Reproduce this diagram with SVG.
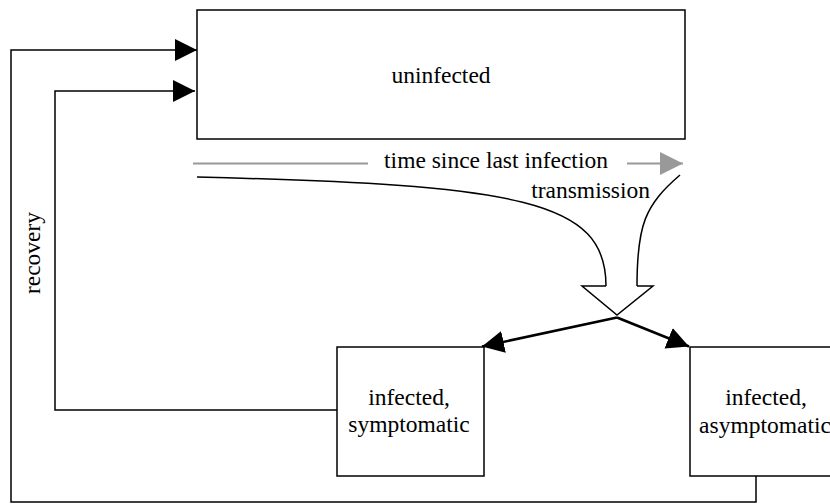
<svg xmlns="http://www.w3.org/2000/svg" width="830" height="504" viewBox="0 0 830 504">
<defs>
<style>
.box{fill:#fff;stroke:#000;stroke-width:1.5}
.t{font-family:'Liberation Serif','DejaVu Serif',serif;font-size:23.5px;fill:#000}
.ln{fill:none;stroke:#000;stroke-width:1.5}
.thick{fill:none;stroke:#000;stroke-width:2.6}
.gray{fill:none;stroke:#999;stroke-width:2}
</style>
<marker id="ah" markerUnits="userSpaceOnUse" markerWidth="23" markerHeight="23" refX="22" refY="11" orient="auto" viewBox="0 0 23 23">
<path d="M0,0 L22,11 L0,22 z" fill="#000"/>
</marker>
<marker id="ahg" markerUnits="userSpaceOnUse" markerWidth="24" markerHeight="24" refX="23" refY="11.5" orient="auto" viewBox="0 0 24 24">
<path d="M0,0 L23,11.5 L0,23 z" fill="#999"/>
</marker>
</defs>
<rect width="830" height="504" fill="#fff"/>
<g id="connectors">
<polyline class="ln" points="756,476 756,502 11,502 11,50 197,50" marker-end="url(#ah)"/>
<polyline class="ln" points="337,410 55,410 55,91 195,91" marker-end="url(#ah)"/>
<line class="gray" x1="193" y1="163.5" x2="368" y2="163.5"/>
<line class="gray" x1="627" y1="163.5" x2="683" y2="163.5" marker-end="url(#ahg)"/>
<path class="ln" d="M197,177 C520,185 606,200 606,286"/>
<path class="ln" d="M680,175 C645,205 637,225 637,286"/>
<path class="ln" d="M606,286 L582,286 L617,315 L653,286 L637,286"/>
<line class="thick" x1="617" y1="317.5" x2="482" y2="346.5" marker-end="url(#ah)"/>
<line class="thick" x1="617" y1="317.5" x2="689" y2="346.5" marker-end="url(#ah)"/>
<text class="t" font-family="Liberation Serif, DejaVu Serif, serif" x="496" y="168" text-anchor="middle">time since last infection</text>
<text class="t" font-family="Liberation Serif, DejaVu Serif, serif" x="650" y="198" text-anchor="end">transmission</text>
<text class="t" font-family="Liberation Serif, DejaVu Serif, serif" transform="translate(40,253) rotate(-90)" text-anchor="middle">recovery</text>
</g>
<g id="uninfected">
<rect class="box" x="197" y="10" width="488" height="129"/>
<text class="t" font-family="Liberation Serif, DejaVu Serif, serif" x="441" y="83" text-anchor="middle">uninfected</text>
</g>
<g id="symptomatic">
<rect class="box" x="337" y="347" width="147" height="129"/>
<text class="t" font-family="Liberation Serif, DejaVu Serif, serif" x="409" y="405" text-anchor="middle">infected,</text>
<text class="t" font-family="Liberation Serif, DejaVu Serif, serif" x="409" y="432" text-anchor="middle">symptomatic</text>
</g>
<g id="asymptomatic">
<rect class="box" x="690" y="347" width="150" height="129"/>
<text class="t" font-family="Liberation Serif, DejaVu Serif, serif" x="766" y="405" text-anchor="middle">infected,</text>
<text class="t" font-family="Liberation Serif, DejaVu Serif, serif" x="765" y="433" text-anchor="middle">asymptomatic</text>
</g>
</svg>
